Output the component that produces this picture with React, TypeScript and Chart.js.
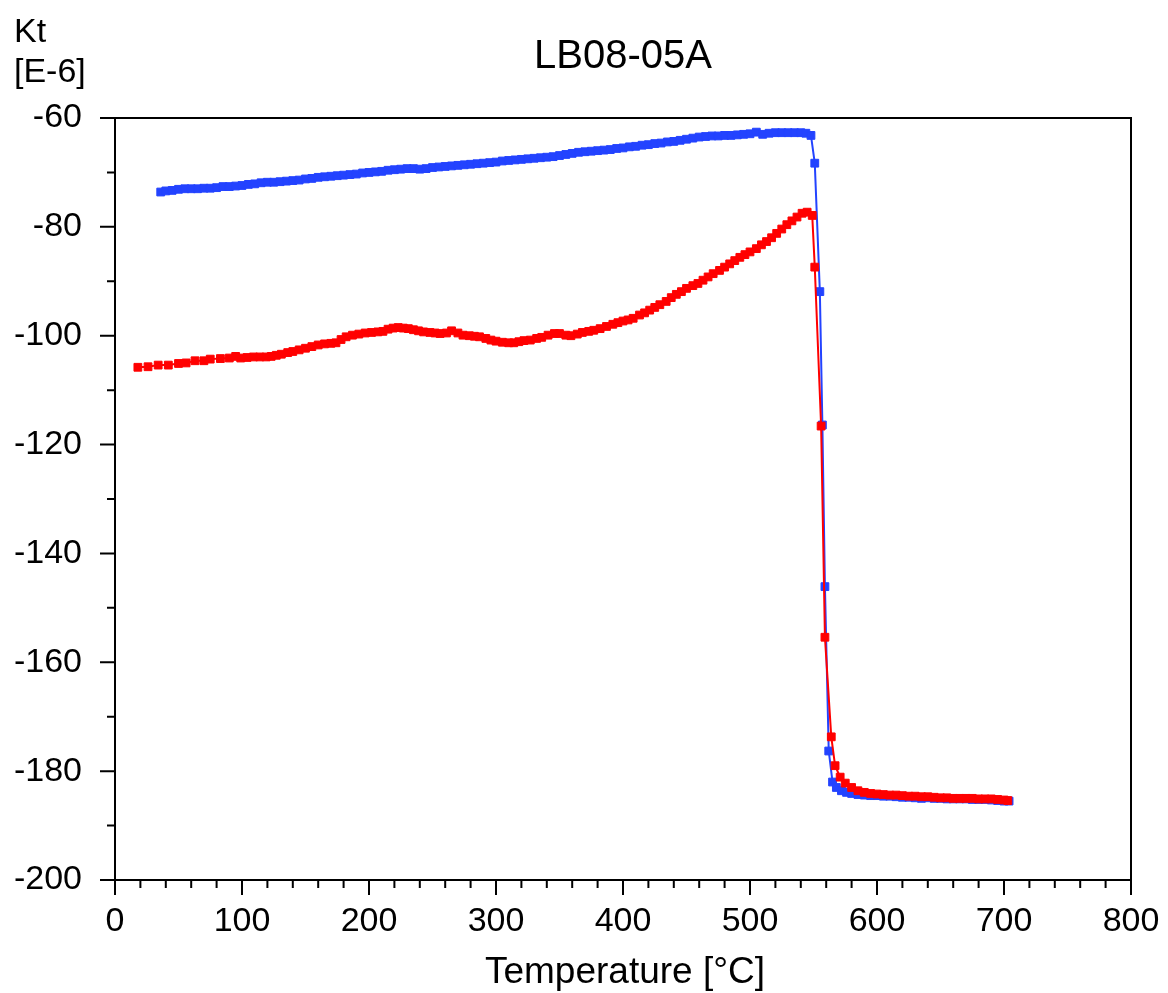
import React, { useEffect, useRef } from "react";
import { Chart, registerables } from "chart.js";

Chart.register(...registerables);

const FONT = "'Liberation Sans', Arial, Helvetica, sans-serif";

const chartTitle = "LB08-05A";
const xAxisTitle = "Temperature [°C]";
const yAxisTitleLines = ["Kt", "[E-6]"];

const xMajorTicks = [0, 100, 200, 300, 400, 500, 600, 700, 800];
const xMinorTicks = [20, 40, 60, 80, 120, 140, 160, 180, 220, 240, 260, 280, 320, 340, 360, 380, 420, 440, 460, 480, 520, 540, 560, 580, 620, 640, 660, 680, 720, 740, 760, 780];
const yMajorTicks = [-60, -80, -100, -120, -140, -160, -180, -200];
const yMinorTicks = [-70, -90, -110, -130, -150, -170, -190];

// Heating curve (blue)
const blueT = [36, 40, 45, 50, 55, 60, 65, 70, 75, 80, 85, 90, 95, 100, 105, 110, 115, 120, 125, 130, 135, 140, 145, 150, 155, 160, 165, 170, 175, 180, 185, 190, 195, 200, 205, 210, 215, 220, 225, 230, 235, 240, 245, 250, 255, 260, 265, 270, 275, 280, 285, 290, 295, 300, 305, 310, 315, 320, 325, 330, 335, 340, 345, 350, 355, 360, 365, 370, 375, 380, 385, 390, 395, 400, 405, 410, 415, 420, 425, 430, 435, 440, 445, 450, 455, 460, 465, 470, 475, 480, 485, 490, 495, 500, 505, 510, 515, 520, 525, 530, 535, 540, 544, 548, 551, 555, 557, 559, 562, 565, 568, 572, 576, 580, 585, 590, 595, 600, 605, 610, 615, 620, 625, 630, 635, 640, 645, 650, 655, 660, 665, 670, 675, 680, 685, 690, 695, 700, 704];
const blueK = [-73.6, -73.4, -73.3, -73.1, -73.0, -73.0, -73.0, -72.9, -72.9, -72.8, -72.6, -72.6, -72.5, -72.4, -72.2, -72.1, -71.9, -71.8, -71.8, -71.7, -71.6, -71.5, -71.4, -71.2, -71.1, -70.9, -70.8, -70.7, -70.6, -70.5, -70.4, -70.3, -70.1, -70.0, -69.9, -69.8, -69.6, -69.5, -69.4, -69.3, -69.3, -69.4, -69.3, -69.1, -69.0, -68.9, -68.8, -68.7, -68.6, -68.5, -68.4, -68.3, -68.2, -68.1, -67.9, -67.8, -67.7, -67.6, -67.5, -67.4, -67.3, -67.2, -67.1, -66.9, -66.7, -66.5, -66.3, -66.2, -66.1, -66.0, -65.9, -65.8, -65.6, -65.5, -65.3, -65.2, -65.0, -64.9, -64.7, -64.6, -64.4, -64.3, -64.1, -63.9, -63.7, -63.5, -63.4, -63.3, -63.3, -63.2, -63.2, -63.1, -63.0, -62.9, -62.6, -63.0, -62.8, -62.7, -62.7, -62.7, -62.7, -62.7, -62.8, -63.2, -68.3, -91.9, -116.4, -146.1, -176.3, -182.0, -183.0, -183.6, -183.9, -184.1, -184.3, -184.4, -184.5, -184.5, -184.6, -184.6, -184.7, -184.8, -184.8, -184.9, -185.0, -184.9, -185.0, -185.0, -185.1, -185.1, -185.1, -185.1, -185.2, -185.2, -185.2, -185.3, -185.4, -185.5, -185.5];

// Cooling curve (red)
const redT = [18, 26, 34, 42, 50, 56, 63, 70, 75, 83, 90, 95, 99, 104, 109, 114, 119, 123, 127, 131, 136, 140, 145, 150, 155, 160, 165, 170, 174, 178, 182, 187, 192, 197, 202, 207, 211, 215, 219, 223, 227, 231, 235, 239, 243, 248, 252, 256, 261, 265, 270, 274, 279, 283, 287, 292, 296, 300, 305, 310, 314, 318, 322, 327, 332, 336, 341, 346, 350, 355, 359, 364, 368, 373, 377, 382, 387, 392, 396, 400, 404, 408, 413, 417, 421, 425, 429, 434, 438, 442, 446, 450, 455, 459, 463, 467, 471, 476, 480, 484, 488, 492, 496, 500, 505, 509, 513, 517, 521, 525, 529, 533, 537, 541, 545, 549, 551, 556, 559, 564, 567, 571, 575, 580, 585, 590, 595, 600, 605, 610, 615, 620, 625, 630, 635, 640, 645, 650, 655, 660, 665, 670, 675, 680, 685, 690, 695, 700, 703];
const redK = [-105.8, -105.7, -105.4, -105.4, -105.1, -105.0, -104.6, -104.6, -104.3, -104.2, -104.1, -103.8, -104.1, -104.0, -103.9, -103.9, -103.9, -103.8, -103.6, -103.4, -103.1, -102.9, -102.6, -102.3, -102.0, -101.7, -101.5, -101.4, -101.3, -100.7, -100.2, -99.9, -99.7, -99.5, -99.4, -99.3, -99.2, -98.8, -98.6, -98.5, -98.6, -98.7, -98.9, -99.1, -99.3, -99.4, -99.5, -99.6, -99.5, -99.1, -99.5, -99.9, -100.0, -100.1, -100.2, -100.5, -100.8, -101.0, -101.2, -101.3, -101.3, -101.1, -100.9, -100.8, -100.5, -100.3, -99.9, -99.6, -99.6, -99.9, -100.0, -99.7, -99.4, -99.2, -99.0, -98.7, -98.3, -97.9, -97.6, -97.3, -97.1, -96.8, -96.2, -95.8, -95.3, -94.8, -94.3, -93.7, -93.0, -92.4, -91.9, -91.3, -90.8, -90.4, -89.8, -89.2, -88.6, -88.0, -87.4, -86.8, -86.2, -85.6, -85.1, -84.6, -84.0, -83.3, -82.7, -82.0, -81.2, -80.4, -79.6, -78.9, -78.2, -77.5, -77.3, -77.9, -87.4, -116.6, -155.4, -173.7, -179.0, -181.1, -182.2, -183.0, -183.6, -183.9, -184.1, -184.2, -184.3, -184.4, -184.4, -184.5, -184.6, -184.6, -184.7, -184.7, -184.8, -184.9, -184.9, -185.0, -185.0, -185.0, -185.0, -185.1, -185.1, -185.1, -185.2, -185.3, -185.4];

const BLUE = "#2343ff";
const RED = "#ff0000";

const framePlugin = {
  id: "frameAndTitles",
  afterDraw(chart: any) {
    const { ctx, chartArea: a } = chart;
    const xs = chart.scales.x;
    const ys = chart.scales.y;
    ctx.save();
    ctx.strokeStyle = "#000";
    ctx.lineWidth = 2;
    ctx.strokeRect(a.left, a.top, a.right - a.left, a.bottom - a.top);
    ctx.beginPath();
    for (const v of yMajorTicks) {
      const py = ys.getPixelForValue(v);
      ctx.moveTo(a.left - 15, py);
      ctx.lineTo(a.left, py);
    }
    for (const v of yMinorTicks) {
      const py = ys.getPixelForValue(v);
      ctx.moveTo(a.left - 8, py);
      ctx.lineTo(a.left, py);
    }
    for (const v of xMajorTicks) {
      const px = xs.getPixelForValue(v);
      ctx.moveTo(px, a.bottom);
      ctx.lineTo(px, a.bottom + 15);
    }
    for (const v of xMinorTicks) {
      const px = xs.getPixelForValue(v);
      ctx.moveTo(px, a.bottom);
      ctx.lineTo(px, a.bottom + 8);
    }
    ctx.stroke();

    ctx.fillStyle = "#000";
    ctx.textBaseline = "alphabetic";
    ctx.textAlign = "center";
    ctx.font = `40px ${FONT}`;
    ctx.fillText(chartTitle, (a.left + a.right) / 2, 68);
    ctx.font = `37px ${FONT}`;
    ctx.fillText(xAxisTitle, (a.left + a.right) / 2 + 2, 983);
    ctx.textAlign = "left";
    ctx.font = `34px ${FONT}`;
    ctx.fillText(yAxisTitleLines[0], 14, 42);
    ctx.fillText(yAxisTitleLines[1], 14, 82);
    ctx.restore();
  },
};

export default function App() {
  const ref = useRef<HTMLCanvasElement | null>(null);

  useEffect(() => {
    if (!ref.current) return;
    const chart = new Chart(ref.current, {
      type: "line",
      data: {
        datasets: [
          {
            label: "cooling",
            data: redT.map((t, i) => ({ x: t, y: redK[i] })),
            borderColor: RED,
            backgroundColor: RED,
            borderWidth: 2,
            pointStyle: "rect",
            pointRadius: 5.5,
            pointBorderWidth: 1,
            pointBackgroundColor: RED,
            pointBorderColor: RED,
            tension: 0,
          },
          {
            label: "heating",
            data: blueT.map((t, i) => ({ x: t, y: blueK[i] })),
            borderColor: BLUE,
            backgroundColor: BLUE,
            borderWidth: 2,
            pointStyle: "rect",
            pointRadius: 5.5,
            pointBorderWidth: 1,
            pointBackgroundColor: BLUE,
            pointBorderColor: BLUE,
            tension: 0,
          },
        ],
      },
      options: {
        animation: false,
        responsive: false,
        devicePixelRatio: 1,
        events: [],
        layout: { padding: { top: 118, right: 37, left: 0, bottom: 0 } },
        plugins: {
          legend: { display: false },
          title: { display: false },
          tooltip: { enabled: false },
        },
        scales: {
          x: {
            type: "linear",
            min: 0,
            max: 800,
            grid: { display: false, drawTicks: false },
            border: { display: false },
            ticks: {
              stepSize: 100,
              padding: 21,
              color: "#000",
              font: { family: FONT, size: 34 },
              maxRotation: 0,
              autoSkip: false,
            },
            afterFit: (scale: any) => {
              scale.height = 113;
              scale.paddingLeft = 0;
              scale.paddingRight = 0;
            },
          },
          y: {
            type: "linear",
            min: -200,
            max: -60,
            grid: { display: false, drawTicks: false },
            border: { display: false },
            ticks: {
              stepSize: 20,
              padding: 33,
              color: "#000",
              font: { family: FONT, size: 34 },
              autoSkip: false,
            },
            afterFit: (scale: any) => {
              scale.width = 115;
              scale.paddingTop = 0;
              scale.paddingBottom = 0;
            },
          },
        },
      },
      plugins: [framePlugin],
    });
    return () => chart.destroy();
  }, []);

  return (
    <div style={{ position: "absolute", left: 0, top: 0, width: 1168, height: 993, background: "#fff" }}>
      <canvas ref={ref} width={1168} height={993} style={{ display: "block" }} />
    </div>
  );
}
